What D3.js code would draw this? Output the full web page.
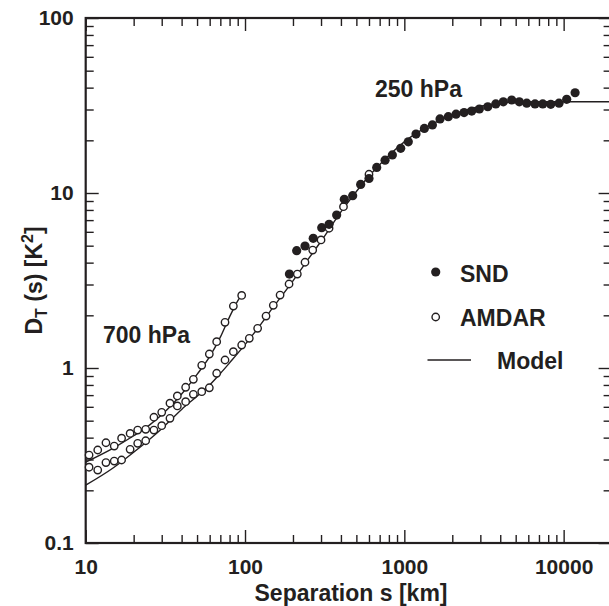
<!DOCTYPE html>
<html>
<head>
<meta charset="utf-8">
<script src="https://cdn.jsdelivr.net/npm/d3@7"></script>
<style>
  html, body { margin: 0; padding: 0; background: #fff; }
  svg { display: block; font-family: "Liberation Sans", Arial, Helvetica, sans-serif; font-weight: bold; }
</style>
</head>
<body>
<svg id="chart" width="609" height="606"></svg>
<script>
// ── Data ─────────────────────────────────────────────────────────────────────
// SND, 250 hPa: [separation km, D_T K^2]
const sndPoints = [
  [190, 3.44], [211, 4.68], [238, 4.98], [268, 5.51], [303, 6.34], [337, 6.62],
  [376, 7.48], [420, 9.20], [474, 9.66], [532, 11.2], [600, 12.1], [671, 14.0],
  [757, 15.4], [841, 16.5], [949, 18.0], [1059, 19.6], [1184, 21.7], [1336, 23.4],
  [1500, 24.5], [1675, 26.5], [1888, 27.3], [2112, 28.2], [2371, 28.8], [2649, 29.4],
  [2958, 30.2], [3340, 31.1], [3750, 32.3], [4182, 33.2], [4720, 34.0], [5270, 33.2],
  [5866, 32.6], [6610, 32.3], [7395, 32.3], [8300, 32.1], [9355, 32.6], [10450, 34.3],
  [11800, 37.4]
];

// AMDAR, 700 hPa
const amdar700 = [
  [10.5, 0.318], [11.9, 0.340], [13.4, 0.374], [15.1, 0.358], [16.8, 0.397],
  [19.0, 0.423], [21.2, 0.442], [23.8, 0.446], [26.8, 0.523], [30.0, 0.558],
  [33.8, 0.629], [37.6, 0.692], [42.4, 0.776], [47.4, 0.861], [53.5, 1.036],
  [59.7, 1.202], [66.4, 1.414], [74.9, 1.825], [84.5, 2.26], [95.3, 2.60]
];

// AMDAR, 250 hPa
const amdar250 = [
  [10.5, 0.271], [11.9, 0.261], [13.4, 0.288], [15.1, 0.294], [16.8, 0.298],
  [19.0, 0.343], [21.2, 0.371], [23.8, 0.384], [26.8, 0.442], [30.0, 0.468],
  [33.8, 0.516], [37.6, 0.607], [42.4, 0.642], [47.4, 0.707], [53.5, 0.732],
  [59.7, 0.771], [66.4, 0.933], [74.9, 1.111], [84.5, 1.239], [95.3, 1.353],
  [106.4, 1.478], [120, 1.686], [135.5, 1.98], [150.5, 2.28], [166, 2.61],
  [189, 3.02], [213, 3.44], [238, 4.02], [266, 4.72], [300, 5.39], [337, 6.29],
  [415, 8.35], [600, 12.8]
];

// Model curves
const model700 = [
  [10, 0.29], [15, 0.35], [20, 0.41], [25, 0.47], [30, 0.54], [35, 0.62],
  [40, 0.71], [50, 0.92], [60, 1.16], [70, 1.50], [80, 1.96], [90, 2.42], [95, 2.62]
];
const model250 = [
  [10, 0.214], [15, 0.27], [20, 0.33], [30, 0.45], [40, 0.58], [50, 0.69],
  [60, 0.80], [70, 0.93], [80, 1.07], [100, 1.36], [120, 1.68], [150, 2.22],
  [200, 3.15], [250, 4.2], [300, 5.3], [400, 7.8], [500, 10.2], [600, 12.5],
  [800, 16.4], [1000, 19.6], [1500, 24.8], [2000, 28.0], [3000, 31.3],
  [4000, 32.6], [5000, 33.1], [7000, 33.2], [20000, 33.2]
];

const xTicks = [10, 100, 1000, 10000];
const xTickLabels = ["10", "100", "1000", "10000"];
const yTicks = [0.1, 1, 10, 100];
const yTickLabels = ["0.1", "1", "10", "100"];

// ── Layout ───────────────────────────────────────────────────────────────────
const ink = "#231f20";
const mLeft = 85.7, mRight = 611.6, mTop = 18, mBottom = 543;

const svg = d3.select("#chart");

const x = d3.scaleLog().domain([10, 20000]).range([mLeft, mRight]);
const y = d3.scaleLog().domain([0.1, 100]).range([mBottom, mTop]);

const xMinor = x.ticks().filter(v => !xTicks.includes(v));
const yMinor = y.ticks().filter(v => !yTicks.some(t => Math.abs(t - v) < 1e-9));

function styleAxis(g) {
  g.select(".domain").remove();
  g.selectAll(".tick line").attr("stroke", ink).attr("stroke-width", 1.4);
  g.selectAll(".tick text").attr("fill", ink).style("font-size", "21px").style("font-weight", "bold");
}

// bottom
svg.append("g").attr("transform", `translate(0,${mBottom})`)
  .call(d3.axisBottom(x).tickValues(xTicks).tickSize(-13).tickPadding(16)
    .tickFormat((d, i) => xTickLabels[i]))
  .call(styleAxis);
svg.append("g").attr("transform", `translate(0,${mBottom})`)
  .call(d3.axisBottom(x).tickValues(xMinor).tickSize(-8).tickFormat(""))
  .call(styleAxis);
// top
svg.append("g").attr("transform", `translate(0,${mTop})`)
  .call(d3.axisTop(x).tickValues(xTicks).tickSize(-13).tickFormat(""))
  .call(styleAxis);
svg.append("g").attr("transform", `translate(0,${mTop})`)
  .call(d3.axisTop(x).tickValues(xMinor).tickSize(-8).tickFormat(""))
  .call(styleAxis);
// left
svg.append("g").attr("transform", `translate(${mLeft},0)`)
  .call(d3.axisLeft(y).tickValues(yTicks).tickSize(-13).tickPadding(12)
    .tickFormat((d, i) => yTickLabels[i]))
  .call(styleAxis);
svg.append("g").attr("transform", `translate(${mLeft},0)`)
  .call(d3.axisLeft(y).tickValues(yMinor).tickSize(-8).tickFormat(""))
  .call(styleAxis);
// right
svg.append("g").attr("transform", `translate(${mRight},0)`)
  .call(d3.axisRight(y).tickValues(yTicks).tickSize(-13).tickFormat(""))
  .call(styleAxis);
svg.append("g").attr("transform", `translate(${mRight},0)`)
  .call(d3.axisRight(y).tickValues(yMinor).tickSize(-8).tickFormat(""))
  .call(styleAxis);

// frame
svg.append("rect")
  .attr("x", mLeft).attr("y", mTop)
  .attr("width", mRight - mLeft).attr("height", mBottom - mTop)
  .attr("fill", "none").attr("stroke", ink).attr("stroke-width", 2.2);

// ── Model lines ──────────────────────────────────────────────────────────────
const line = d3.line().x(d => x(d[0])).y(d => y(d[1])).curve(d3.curveMonotoneX);
svg.selectAll("path.model")
  .data([model250, model700])
  .join("path")
  .attr("class", "model")
  .attr("d", line)
  .attr("fill", "none")
  .attr("stroke", ink)
  .attr("stroke-width", 1.4);

// ── AMDAR (open circles) ─────────────────────────────────────────────────────
svg.append("g").selectAll("circle")
  .data(amdar700.concat(amdar250))
  .join("circle")
  .attr("cx", d => x(d[0])).attr("cy", d => y(d[1]))
  .attr("r", 3.7)
  .attr("fill", "#fff").attr("stroke", ink).attr("stroke-width", 1.4);

// ── SND (filled dots) ────────────────────────────────────────────────────────
svg.append("g").selectAll("circle")
  .data(sndPoints)
  .join("circle")
  .attr("cx", d => x(d[0])).attr("cy", d => y(d[1]))
  .attr("r", 4.6)
  .attr("fill", ink);

// ── Annotations ──────────────────────────────────────────────────────────────
function label(txt, px, py, size) {
  return svg.append("text").attr("x", px).attr("y", py)
    .attr("fill", ink).style("font-size", size + "px").text(txt);
}
label("250 hPa", 375, 97, 23);
label("700 hPa", 103, 343, 23);

// legend
svg.append("circle").attr("cx", 435.7).attr("cy", 272).attr("r", 4.6).attr("fill", ink);
label("SND", 460, 282, 23);
svg.append("circle").attr("cx", 435.7).attr("cy", 317).attr("r", 3.7)
  .attr("fill", "#fff").attr("stroke", ink).attr("stroke-width", 1.4);
label("AMDAR", 460, 326, 23);
svg.append("line").attr("x1", 427.5).attr("x2", 471).attr("y1", 360).attr("y2", 360)
  .attr("stroke", ink).attr("stroke-width", 1.4);
label("Model", 497, 369, 23);

// axis titles
svg.append("text")
  .attr("x", 351).attr("y", 601)
  .attr("text-anchor", "middle").attr("fill", ink).style("font-size", "23px")
  .text("Separation s [km]");

const yt = svg.append("text")
  .attr("transform", `translate(42,${(mTop + mBottom) / 2}) rotate(-90)`)
  .attr("text-anchor", "middle").attr("fill", ink).style("font-size", "23px");
yt.append("tspan").text("D");
yt.append("tspan").attr("dy", 5).style("font-size", "16px").text("T");
yt.append("tspan").attr("dy", -5).text(" (s) [K");
yt.append("tspan").attr("dy", -9).style("font-size", "16px").text("2");
yt.append("tspan").attr("dy", 9).text("]");
</script>
</body>
</html>
